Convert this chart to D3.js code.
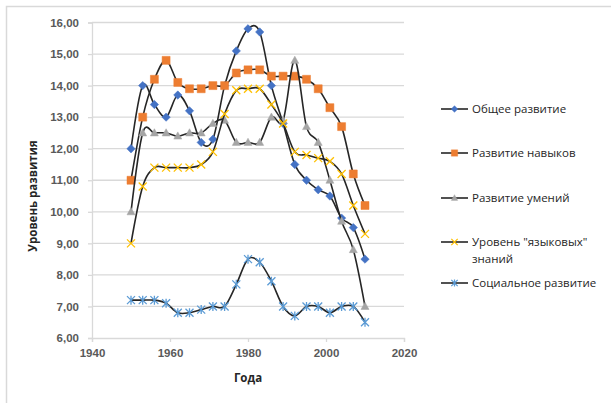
<!DOCTYPE html>
<html>
<head>
<meta charset="utf-8">
<script src="https://cdn.jsdelivr.net/npm/d3@7"></script>
<style>
  body { margin: 0; background: #fff; }
  svg { font-family: "Open Sans", "Liberation Sans", sans-serif; }
</style>
</head>
<body>
<svg id="chart" width="611" height="403"></svg>
<script>
// years every 3 from 1950 to 2010
const years = [1950, 1953, 1956, 1959, 1962, 1965, 1968, 1971, 1974, 1977, 1980,
               1983, 1986, 1989, 1992, 1995, 1998, 2001, 2004, 2007, 2010]

const obshee   = [12.0, 14.0, 13.4, 13.0, 13.7, 13.2, 12.2, 12.3, 14.0, 15.1, 15.8,
                  15.7, 14.0, 12.8, 11.5, 11.0, 10.7, 10.5, 9.8, 9.5, 8.5]
const navyki   = [11.0, 13.0, 14.2, 14.8, 14.1, 13.9, 13.9, 14.0, 14.0, 14.4, 14.5,
                  14.5, 14.3, 14.3, 14.3, 14.2, 13.9, 13.3, 12.7, 11.2, 10.2]
const umeniya  = [10.0, 12.5, 12.5, 12.5, 12.4, 12.5, 12.5, 12.8, 12.9, 12.2, 12.2,
                  12.2, 13.0, 12.9, 14.8, 12.7, 12.2, 11.0, 9.7, 8.8, 7.0]
const yazyk    = [9.0, 10.8, 11.4, 11.4, 11.4, 11.4, 11.5, 11.9, 13.1, 13.85, 13.9,
                  13.9, 13.4, 12.8, 11.9, 11.8, 11.7, 11.6, 11.2, 10.2, 9.3]
const social   = [7.2, 7.2, 7.2, 7.1, 6.8, 6.8, 6.9, 7.0, 7.0, 7.7, 8.5,
                  8.4, 7.8, 7.0, 6.7, 7.0, 7.0, 6.8, 7.0, 7.0, 6.5]

const xTicks = [1940, 1960, 1980, 2000, 2020]
const yTicks = [6, 7, 8, 9, 10, 11, 12, 13, 14, 15, 16]

const series = [
  {name: ["Общее развитие"], values: obshee, color: "#4472C4", marker: "diamond"},
  {name: ["Развитие навыков"], values: navyki, color: "#ED7D31", marker: "square"},
  {name: ["Развитие умений"], values: umeniya, color: "#A5A5A5", marker: "triangle"},
  {name: ["Уровень \"языковых\"", "знаний"], values: yazyk, color: "#FFC000", marker: "cross"},
  {name: ["Социальное развитие"], values: social, color: "#5B9BD5", marker: "star"}
]

const svg = d3.select("#chart")
const plotLeft = 92, plotRight = 404, plotTop = 22.5, plotBottom = 338

// outer chart border (only top/left visible in the crop)
svg.append("rect")
  .attr("x", 6.5).attr("y", 6.5).attr("width", 640).attr("height", 440)
  .attr("fill", "none").attr("stroke", "#d9d9d9").attr("stroke-width", 1.5)

const x = d3.scaleLinear().domain([1940, 2020]).range([plotLeft, plotRight])
const y = d3.scaleLinear().domain([6, 16]).range([plotBottom, plotTop])

// gridlines
svg.append("g").selectAll("line").data(yTicks.slice(1)).join("line")
  .attr("x1", plotLeft).attr("x2", plotRight)
  .attr("y1", d => y(d)).attr("y2", d => y(d))
  .attr("stroke", "#d9d9d9").attr("stroke-width", 1.3)

// y axis
let yAxis = svg.append("g")
  .attr("transform", `translate(${plotLeft},0)`)
  .call(d3.axisLeft(y).tickValues(yTicks).tickSize(4).tickPadding(9)
    .tickFormat(d => d3.format(".2f")(d).replace(".", ",")))
yAxis.select(".domain").attr("stroke", "#d9d9d9").attr("stroke-width", 1.3)
yAxis.selectAll(".tick line").attr("stroke", "#d9d9d9").attr("stroke-width", 1.3)
yAxis.selectAll("text").attr("fill", "#595959").attr("font-size", 11.5).attr("font-weight", "bold")

// x axis
let xAxis = svg.append("g")
  .attr("transform", `translate(0,${plotBottom})`)
  .call(d3.axisBottom(x).tickValues(xTicks).tickSize(4).tickPadding(7).tickFormat(d3.format("d")))
xAxis.select(".domain").attr("stroke", "#d9d9d9").attr("stroke-width", 1.3)
xAxis.selectAll(".tick line").attr("stroke", "#d9d9d9").attr("stroke-width", 1.3)
xAxis.selectAll("text").attr("fill", "#595959").attr("font-size", 11.5).attr("font-weight", "bold")

// axis titles
svg.append("text")
  .attr("x", (plotLeft + plotRight) / 2).attr("y", 382)
  .attr("text-anchor", "middle").attr("font-size", 11.5).attr("font-weight", "bold")
  .attr("fill", "#262626").text("Года")
svg.append("text")
  .attr("transform", "translate(37,196) rotate(-90)")
  .attr("text-anchor", "middle").attr("font-size", 11.5).attr("font-weight", "bold")
  .attr("fill", "#262626").text("Уровень развития")

function markerPath(type) {
  if (type == "diamond") return "M0,-4.2L4.2,0L0,4.2L-4.2,0Z"
  if (type == "square") return "M-4,-4H4V4H-4Z"
  if (type == "triangle") return "M0,-4.2L4,3L-4,3Z"
  if (type == "cross") return "M-4,-4L4,4M4,-4L-4,4"
  return "M-4,-4L4,4M4,-4L-4,4M0,-4.5V4.5"
}

const line = d3.line()
  .x((d, i) => x(years[i]))
  .y(d => y(d))
  .curve(d3.curveCardinal.tension(0))

let plot = svg.append("g")
series.forEach(s => {
  plot.append("path")
    .attr("d", line(s.values))
    .attr("fill", "none").attr("stroke", "#262626").attr("stroke-width", 1.6)
  let stroked = s.marker == "cross" || s.marker == "star"
  plot.append("g").selectAll("path").data(s.values).join("path")
    .attr("transform", (d, i) => `translate(${x(years[i])},${y(d)})`)
    .attr("d", markerPath(s.marker))
    .attr("fill", stroked ? "none" : s.color)
    .attr("stroke", s.color).attr("stroke-width", stroked ? 1.3 : 0.5)
})

// legend
const legendY = [109, 153, 198, 242, 283]
let legend = svg.append("g")
series.forEach((s, k) => {
  let g = legend.append("g").attr("transform", `translate(441,${legendY[k]})`)
  g.append("line").attr("x1", 0).attr("x2", 27).attr("stroke", "#262626").attr("stroke-width", 1.6)
  let stroked = s.marker == "cross" || s.marker == "star"
  g.append("path").attr("transform", "translate(13.5,0) scale(0.8)")
    .attr("d", markerPath(s.marker))
    .attr("fill", stroked ? "none" : s.color)
    .attr("stroke", s.color).attr("stroke-width", stroked ? 1.5 : 0.5)
  s.name.forEach((t, j) => {
    g.append("text").attr("x", 31).attr("y", 4 + j * 17)
      .attr("font-size", 11.5).attr("fill", "#262626").text(t)
  })
})
</script>
</body>
</html>
